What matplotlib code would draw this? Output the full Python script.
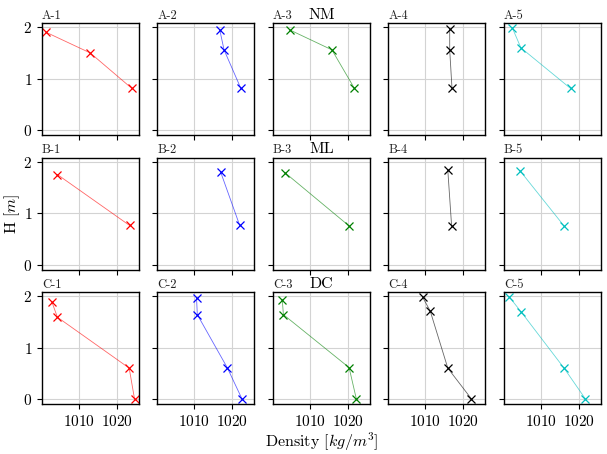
import matplotlib
matplotlib.use("Agg")
import matplotlib.pyplot as plt

plt.rcParams['font.family'] = 'serif'
plt.rcParams['font.serif'] = ['cmr10', 'DejaVu Serif']
plt.rcParams['mathtext.fontset'] = 'cm'
plt.rcParams['axes.formatter.use_mathtext'] = True
plt.rcParams['axes.unicode_minus'] = False

rows = ['A', 'B', 'C']
row_titles = ['NM', 'ML', 'DC']
colors = ['r', 'b', 'g', 'k', 'c']

# Row A: density [kg/m^3] and height [m] per station
A_density = [[1001.5, 1013.0, 1023.9],
             [1016.7, 1017.8, 1022.2],
             [1004.7, 1015.8, 1021.7],
             [1016.4, 1016.4, 1017.0],
             [1002.6, 1004.8, 1017.8]]
A_height = [[1.90, 1.50, 0.81],
            [1.94, 1.56, 0.81],
            [1.95, 1.56, 0.81],
            [1.96, 1.56, 0.81],
            [1.98, 1.60, 0.81]]

# Row B
B_density = [[1004.4, 1023.3],
             [1016.9, 1021.9],
             [1003.6, 1020.3],
             [1015.9, 1016.9],
             [1004.6, 1016.1]]
B_height = [[1.75, 0.76],
            [1.80, 0.76],
            [1.78, 0.75],
            [1.84, 0.75],
            [1.82, 0.75]]

# Row C
C_density = [[1003.0, 1004.4, 1023.2, 1024.6],
             [1010.6, 1010.8, 1018.7, 1022.5],
             [1002.8, 1003.1, 1020.3, 1022.2],
             [1009.3, 1011.3, 1015.9, 1022.1],
             [1001.8, 1004.9, 1016.1, 1021.7]]
C_height = [[1.88, 1.59, 0.60, 0.0],
            [1.96, 1.64, 0.60, 0.0],
            [1.93, 1.64, 0.61, 0.0],
            [1.98, 1.71, 0.60, 0.0],
            [1.98, 1.69, 0.60, 0.0]]

densities = [A_density, B_density, C_density]
heights = [A_height, B_height, C_height]

fig, axes = plt.subplots(3, 5, figsize=(6.07, 4.54), dpi=100, sharex=True, sharey=True)
fig.subplots_adjust(left=0.069, right=0.990, top=0.949, bottom=0.110, wspace=0.19, hspace=0.2)

for i, r in enumerate(rows):
    for j in range(5):
        ax = axes[i, j]
        ax.plot(densities[i][j], heights[i][j], color=colors[j], lw=0.6, alpha=0.6)
        ax.plot(densities[i][j], heights[i][j], color=colors[j], ls='none',
                marker='x', markersize=5.5, markeredgewidth=0.9)
        ax.set_title(f'{r}-{j+1}', loc='left', fontsize=9, pad=3, color='#222222')
        ax.grid(True, color='#d3d3d3', lw=0.8)
        ax.set_axisbelow(True)
        ax.tick_params(labelsize=11)
        for s in ax.spines.values():
            s.set_linewidth(1.0)
    axes[i, 2].set_title(row_titles[i], loc='center', fontsize=11.5, pad=3)

axes[0, 0].set_xticks([1010, 1020])
axes[0, 0].set_yticks([0, 1, 2])
axes[1, 0].set_ylabel('H [$m$]', fontsize=11.5, labelpad=1)
axes[2, 2].set_xlabel('Density [$kg/m^3$]', fontsize=11.5, labelpad=1)

fig.savefig('out.png', dpi=100)
